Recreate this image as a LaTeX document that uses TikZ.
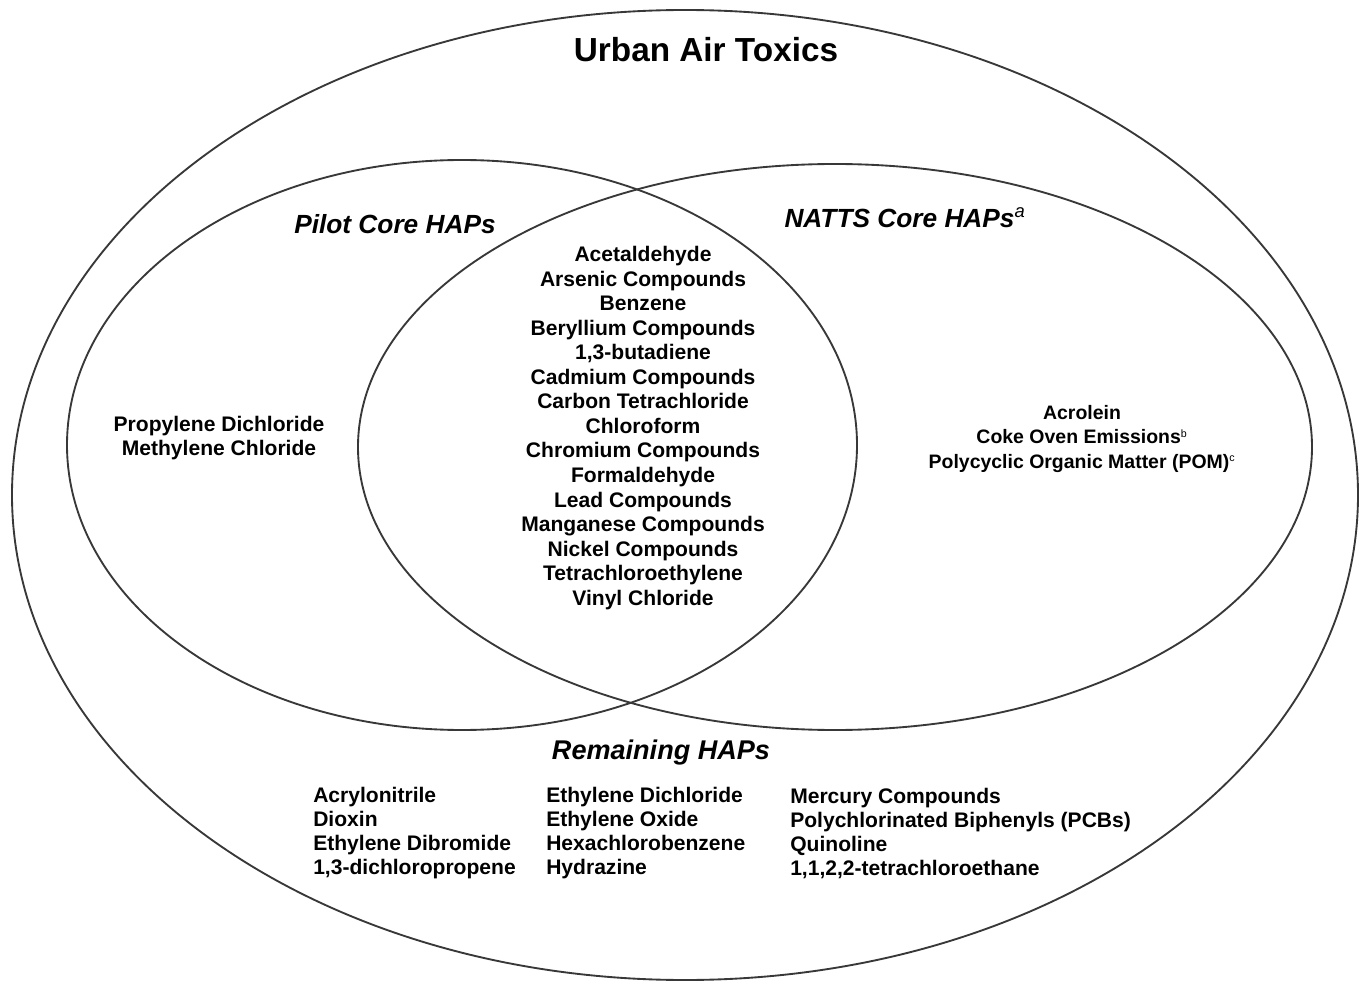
\documentclass[tikz,border=0pt]{standalone}
\usepackage{fontspec}
\setmainfont{Liberation Sans}
\begin{document}
\begin{tikzpicture}[x=0.75pt,y=-0.75pt,
  ring/.style={draw=black!78,line width=1.4pt},
  title/.style={font=\bfseries\fontsize{25}{30}\selectfont},
  settitle/.style={font=\bfseries\itshape\fontsize{19.7}{23}\selectfont},
  items/.style={font=\bfseries\fontsize{15.8}{18.4}\selectfont,align=center,inner sep=0pt},
  cols/.style={font=\bfseries\fontsize{15.8}{18}\selectfont,align=left,anchor=west,inner sep=0pt}]
\useasboundingbox (0,0) rectangle (1361,984);
\draw[ring] (685,495) ellipse [x radius=673,y radius=485];
\draw[ring] (462,445) ellipse [x radius=395,y radius=285];
\draw[ring] (835,447) ellipse [x radius=477,y radius=283];
\node[title] (urban) at (706,50) {Urban Air Toxics};
\node[settitle] (pilot) at (395,224) {Pilot Core HAPs};
\node[settitle] (natts) at (905,218) {NATTS Core HAPs\textsuperscript{\normalfont\itshape a}};
\node[settitle,font=\bfseries\itshape\fontsize{20.3}{23}\selectfont] (remain) at (661,752) {Remaining HAPs};
\node[items] (core) at (643,428) {Acetaldehyde\\Arsenic Compounds\\Benzene\\Beryllium Compounds\\1,3-butadiene\\Cadmium Compounds\\Carbon Tetrachloride\\Chloroform\\Chromium Compounds\\Formaldehyde\\Lead Compounds\\Manganese Compounds\\Nickel Compounds\\Tetrachloroethylene\\Vinyl Chloride};
\node[items] (pilotonly) at (219,438) {Propylene Dichloride\\Methylene Chloride};
\node[items,font=\bfseries\fontsize{14.6}{18.4}\selectfont] (nattsonly) at (1082,439) {Acrolein\\Coke Oven Emissions\textsuperscript{\normalfont\fontsize{8}{8}\selectfont b}\\Polycyclic Organic Matter (POM)\textsuperscript{\normalfont\fontsize{8}{8}\selectfont c}};
\node[cols] (colA) at (313,833) {Acrylonitrile\\Dioxin\\Ethylene Dibromide\\1,3-dichloropropene};
\node[cols] (colB) at (546,833) {Ethylene Dichloride\\Ethylene Oxide\\Hexachlorobenzene\\Hydrazine};
\node[cols] (colC) at (790,833) {Mercury Compounds\\Polychlorinated Biphenyls (PCBs)\\Quinoline\\1,1,2,2-tetrachloroethane};
\end{tikzpicture}
\end{document}
